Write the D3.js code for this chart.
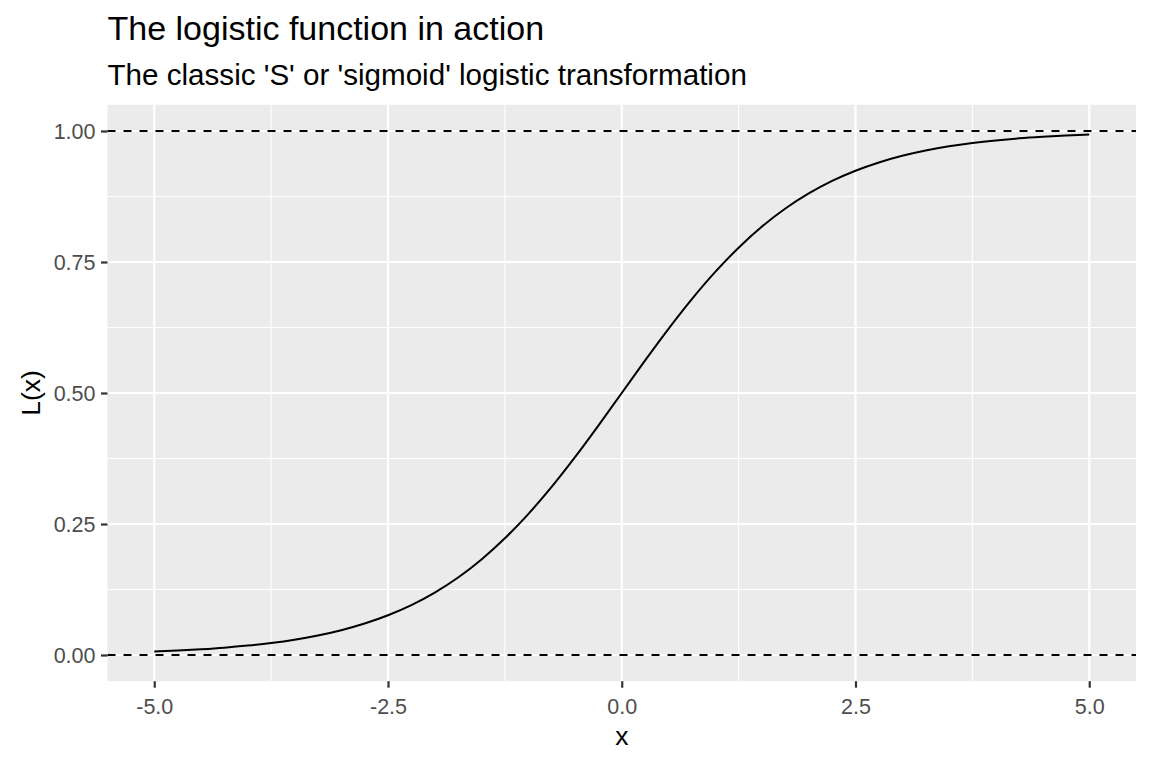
<!DOCTYPE html>
<html>
<head>
<meta charset="utf-8">
<script src="https://cdn.jsdelivr.net/npm/d3@7"></script>
<style>
  html, body { margin: 0; padding: 0; background: #ffffff; }
  svg { display: block; font-family: "Liberation Sans", Arial, sans-serif; }
</style>
</head>
<body>
<svg id="chart" width="1152" height="768"></svg>
<script>
// ---- data ----
const xValues = [-5, -4.75, -4.5, -4.25, -4, -3.75, -3.5, -3.25, -3, -2.75, -2.5, -2.25, -2, -1.75, -1.5, -1.25, -1, -0.75, -0.5, -0.25,
                 0, 0.25, 0.5, 0.75, 1, 1.25, 1.5, 1.75, 2, 2.25, 2.5, 2.75, 3, 3.25, 3.5, 3.75, 4, 4.25, 4.5, 4.75, 5];
const lValues = [0.0067, 0.0086, 0.0110, 0.0140, 0.0180, 0.0230, 0.0293, 0.0373, 0.0474, 0.0601, 0.0759, 0.0953, 0.1192, 0.1480, 0.1824, 0.2227, 0.2689, 0.3208, 0.3775, 0.4378,
                 0.5, 0.5622, 0.6225, 0.6792, 0.7311, 0.7773, 0.8176, 0.8520, 0.8808, 0.9047, 0.9241, 0.9399, 0.9526, 0.9627, 0.9707, 0.9770, 0.9820, 0.9860, 0.9890, 0.9914, 0.9933];
const refLines = [0, 1];
const xTicks = [-5, -2.5, 0, 2.5, 5];
const xTickLabels = ["-5.0", "-2.5", "0.0", "2.5", "5.0"];
const xMinor = [-3.75, -1.25, 1.25, 3.75];
const yTicks = [0, 0.25, 0.5, 0.75, 1];
const yTickLabels = ["0.00", "0.25", "0.50", "0.75", "1.00"];
const yMinor = [0.125, 0.375, 0.625, 0.875];
const titleText = "The logistic function in action";
const subtitleText = "The classic 'S' or 'sigmoid' logistic transformation";
const xLabel = "x";
const yLabel = "L(x)";

// ---- layout ----
const svg = d3.select("#chart");
const panel = { left: 107.5, right: 1136, top: 104.8, bottom: 681.2 };
const FONT = "Liberation Sans, Arial, sans-serif";

const x = d3.scaleLinear().domain([-5.5, 5.5]).range([panel.left, panel.right]);
const y = d3.scaleLinear().domain([-0.05, 1.05]).range([panel.bottom, panel.top]);

// panel background
svg.append("rect")
  .attr("x", panel.left).attr("y", panel.top)
  .attr("width", panel.right - panel.left).attr("height", panel.bottom - panel.top)
  .attr("fill", "#EBEBEB");

const grid = svg.append("g");
// minor grid
grid.selectAll(".xminor").data(xMinor).join("line")
  .attr("x1", d => x(d)).attr("x2", d => x(d))
  .attr("y1", panel.top).attr("y2", panel.bottom)
  .attr("stroke", "#ffffff").attr("stroke-width", 1.1);
grid.selectAll(".yminor").data(yMinor).join("line")
  .attr("y1", d => y(d)).attr("y2", d => y(d))
  .attr("x1", panel.left).attr("x2", panel.right)
  .attr("stroke", "#ffffff").attr("stroke-width", 1.1);
// major grid
grid.selectAll(".xmajor").data(xTicks).join("line")
  .attr("x1", d => x(d)).attr("x2", d => x(d))
  .attr("y1", panel.top).attr("y2", panel.bottom)
  .attr("stroke", "#ffffff").attr("stroke-width", 2.2);
grid.selectAll(".ymajor").data(yTicks).join("line")
  .attr("y1", d => y(d)).attr("y2", d => y(d))
  .attr("x1", panel.left).attr("x2", panel.right)
  .attr("stroke", "#ffffff").attr("stroke-width", 2.2);

// reference dashed lines
svg.selectAll(".ref").data(refLines).join("line")
  .attr("x1", panel.left).attr("x2", panel.right)
  .attr("y1", d => y(d)).attr("y2", d => y(d))
  .attr("stroke", "#000000").attr("stroke-width", 2)
  .attr("stroke-dasharray", "8,8");

// curve
const pts = xValues.map((v, i) => [v, lValues[i]]);
const line = d3.line().x(d => x(d[0])).y(d => y(d[1])).curve(d3.curveMonotoneX);
svg.append("path").datum(pts)
  .attr("d", line)
  .attr("fill", "none").attr("stroke", "#000000").attr("stroke-width", 2);

// axes
const xAxis = d3.axisBottom(x).tickValues(xTicks).tickFormat((d, i) => xTickLabels[i]).tickSize(6.5);
const gx = svg.append("g").attr("transform", `translate(0,${panel.bottom})`).call(xAxis);
gx.select(".domain").remove();
gx.selectAll(".tick line").attr("stroke", "#333333").attr("stroke-width", 2.2);
gx.selectAll(".tick text").attr("fill", "#4D4D4D")
  .style("font-size", "21.5px").style("font-family", FONT)
  .attr("dy", null).attr("y", 33);

const yAxis = d3.axisLeft(y).tickValues(yTicks).tickFormat((d, i) => yTickLabels[i]).tickSize(6.5);
const gy = svg.append("g").attr("transform", `translate(${panel.left},0)`).call(yAxis);
gy.select(".domain").remove();
gy.selectAll(".tick line").attr("stroke", "#333333").attr("stroke-width", 2.2);
gy.selectAll(".tick text").attr("fill", "#4D4D4D")
  .style("font-size", "21.5px").style("font-family", FONT)
  .attr("x", -12).attr("dy", "0.36em");

// axis titles
svg.append("text")
  .attr("x", (panel.left + panel.right) / 2).attr("y", 745)
  .attr("text-anchor", "middle").style("font-size", "26.5px").style("font-family", FONT).attr("fill", "#000000")
  .text(xLabel);
svg.append("text")
  .attr("transform", `translate(40,${(panel.top + panel.bottom) / 2}) rotate(-90)`)
  .attr("text-anchor", "middle").style("font-size", "26.5px").style("font-family", FONT).attr("fill", "#000000")
  .text(yLabel);

// titles
svg.append("text")
  .attr("x", panel.left).attr("y", 40)
  .style("font-size", "34px").style("font-family", FONT).attr("fill", "#000000")
  .text(titleText);
svg.append("text")
  .attr("x", panel.left).attr("y", 85)
  .style("font-size", "29.6px").style("font-family", FONT).attr("fill", "#000000")
  .text(subtitleText);
</script>
</body>
</html>
